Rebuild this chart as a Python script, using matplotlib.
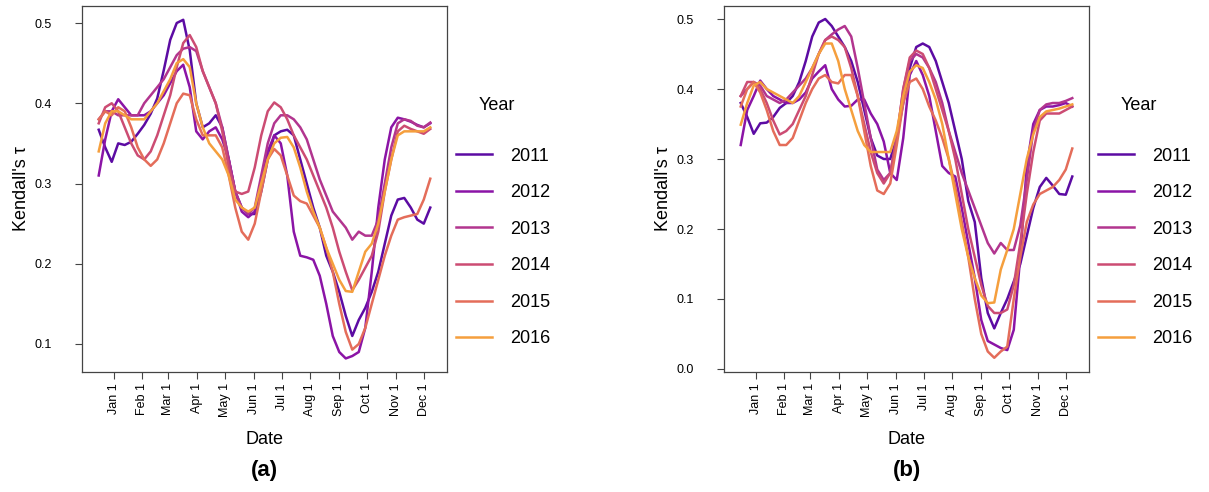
import numpy as np
import matplotlib
matplotlib.use("Agg")
from matplotlib import pyplot as plt

plt.rcParams['font.family'] = ['Liberation Sans', 'DejaVu Sans']

# weekly window centres, in days from Jan 1
days = np.arange(-16, 342, 7)

years = ['2011', '2012', '2013', '2014', '2015', '2016']
colors = ['#5c0ba3', '#8b14a6', '#b2358f', '#cc4c73', '#e46d5a', '#f59f3d']

month_days = [0, 31, 59, 90, 120, 151, 181, 212, 243, 273, 304, 334]
month_labels = ['Jan 1', 'Feb 1', 'Mar 1', 'Apr 1', 'May 1', 'Jun 1',
                'Jul 1', 'Aug 1', 'Sep 1', 'Oct 1', 'Nov 1', 'Dec 1']

# panel (a)
tau_a_2011 = [0.367, 0.345, 0.327, 0.350, 0.348, 0.352, 0.362, 0.373, 0.387, 0.406, 0.441, 0.479, 0.500,
              0.504, 0.466, 0.400, 0.370, 0.375, 0.385, 0.370, 0.330, 0.290, 0.270, 0.262, 0.262, 0.290,
              0.330, 0.360, 0.365, 0.367, 0.360, 0.330, 0.300, 0.270, 0.245, 0.210, 0.190, 0.165, 0.135,
              0.110, 0.130, 0.145, 0.165, 0.190, 0.225, 0.260, 0.280, 0.282, 0.270, 0.255, 0.250, 0.270]
tau_a_2012 = [0.310, 0.355, 0.390, 0.405, 0.395, 0.385, 0.385, 0.385, 0.390, 0.400, 0.410, 0.425, 0.440,
              0.448, 0.420, 0.365, 0.355, 0.365, 0.370, 0.355, 0.330, 0.290, 0.265, 0.258, 0.265, 0.300,
              0.340, 0.360, 0.350, 0.310, 0.240, 0.210, 0.208, 0.205, 0.185, 0.150, 0.110, 0.090, 0.082,
              0.085, 0.090, 0.120, 0.190, 0.270, 0.330, 0.370, 0.382, 0.380, 0.377, 0.373, 0.370, 0.375]
tau_a_2013 = [0.380, 0.390, 0.390, 0.385, 0.385, 0.385, 0.385, 0.400, 0.410, 0.420, 0.430, 0.445, 0.460,
              0.468, 0.470, 0.465, 0.440, 0.420, 0.400, 0.370, 0.330, 0.290, 0.270, 0.262, 0.270, 0.310,
              0.350, 0.375, 0.385, 0.385, 0.380, 0.370, 0.355, 0.330, 0.305, 0.285, 0.265, 0.255, 0.245,
              0.230, 0.240, 0.235, 0.235, 0.255, 0.300, 0.345, 0.375, 0.380, 0.378, 0.372, 0.370, 0.376]
tau_a_2014 = [0.375, 0.395, 0.400, 0.390, 0.370, 0.350, 0.335, 0.330, 0.340, 0.360, 0.385, 0.410, 0.445,
              0.475, 0.485, 0.470, 0.440, 0.420, 0.400, 0.365, 0.320, 0.290, 0.287, 0.290, 0.320, 0.360,
              0.390, 0.401, 0.395, 0.380, 0.360, 0.345, 0.330, 0.310, 0.290, 0.270, 0.245, 0.215, 0.190,
              0.167, 0.180, 0.195, 0.210, 0.240, 0.290, 0.330, 0.365, 0.372, 0.368, 0.365, 0.362, 0.368]
tau_a_2015 = [0.380, 0.390, 0.385, 0.395, 0.390, 0.370, 0.345, 0.330, 0.322, 0.330, 0.350, 0.375, 0.400,
              0.412, 0.410, 0.380, 0.360, 0.360, 0.360, 0.345, 0.310, 0.270, 0.240, 0.230, 0.250, 0.290,
              0.330, 0.343, 0.335, 0.310, 0.285, 0.278, 0.275, 0.260, 0.245, 0.220, 0.190, 0.150, 0.115,
              0.093, 0.100, 0.120, 0.150, 0.180, 0.210, 0.235, 0.255, 0.258, 0.260, 0.262, 0.280, 0.306]
tau_a_2016 = [0.340, 0.375, 0.390, 0.390, 0.385, 0.380, 0.380, 0.380, 0.390, 0.400, 0.415, 0.430, 0.450,
              0.455, 0.445, 0.400, 0.370, 0.350, 0.340, 0.330, 0.310, 0.280, 0.270, 0.265, 0.270, 0.300,
              0.330, 0.350, 0.357, 0.358, 0.345, 0.320, 0.290, 0.265, 0.245, 0.220, 0.200, 0.180, 0.166,
              0.165, 0.190, 0.215, 0.225, 0.250, 0.290, 0.330, 0.360, 0.365, 0.365, 0.365, 0.365, 0.370]

# panel (b)
tau_b_2011 = [0.380, 0.360, 0.336, 0.351, 0.352, 0.360, 0.373, 0.380, 0.390, 0.410, 0.440, 0.475, 0.495,
              0.500, 0.490, 0.475, 0.460, 0.440, 0.410, 0.370, 0.330, 0.305, 0.300, 0.300, 0.330, 0.380,
              0.430, 0.460, 0.465, 0.460, 0.440, 0.410, 0.380, 0.340, 0.300, 0.240, 0.210, 0.130, 0.080,
              0.058, 0.080, 0.100, 0.125, 0.150, 0.190, 0.230, 0.260, 0.273, 0.262, 0.250, 0.249, 0.275]
tau_b_2012 = [0.320, 0.370, 0.390, 0.412, 0.400, 0.390, 0.385, 0.380, 0.380, 0.385, 0.395, 0.415, 0.425,
              0.434, 0.400, 0.385, 0.375, 0.376, 0.385, 0.385, 0.365, 0.350, 0.325, 0.280, 0.270, 0.330,
              0.420, 0.440, 0.420, 0.390, 0.340, 0.290, 0.280, 0.275, 0.230, 0.180, 0.130, 0.070, 0.040,
              0.035, 0.030, 0.027, 0.056, 0.160, 0.290, 0.350, 0.370, 0.375, 0.375, 0.377, 0.380, 0.375]
tau_b_2013 = [0.390, 0.400, 0.410, 0.405, 0.390, 0.385, 0.380, 0.385, 0.395, 0.405, 0.415, 0.430, 0.450,
              0.470, 0.478, 0.485, 0.490, 0.475, 0.430, 0.380, 0.330, 0.285, 0.270, 0.280, 0.330, 0.400,
              0.440, 0.450, 0.445, 0.430, 0.410, 0.380, 0.340, 0.310, 0.280, 0.255, 0.230, 0.205, 0.180,
              0.165, 0.180, 0.170, 0.170, 0.205, 0.270, 0.340, 0.370, 0.378, 0.380, 0.380, 0.383, 0.387]
tau_b_2014 = [0.390, 0.410, 0.410, 0.400, 0.380, 0.355, 0.335, 0.340, 0.350, 0.370, 0.390, 0.420, 0.450,
              0.470, 0.475, 0.470, 0.460, 0.430, 0.390, 0.350, 0.310, 0.280, 0.265, 0.280, 0.330, 0.400,
              0.445, 0.455, 0.450, 0.430, 0.400, 0.370, 0.340, 0.300, 0.250, 0.200, 0.160, 0.120, 0.090,
              0.080, 0.080, 0.085, 0.120, 0.180, 0.250, 0.310, 0.355, 0.365, 0.365, 0.365, 0.370, 0.375]
tau_b_2015 = [0.375, 0.400, 0.410, 0.395, 0.370, 0.340, 0.320, 0.320, 0.330, 0.355, 0.380, 0.400, 0.415,
              0.420, 0.410, 0.408, 0.420, 0.420, 0.390, 0.340, 0.290, 0.255, 0.250, 0.265, 0.320, 0.380,
              0.410, 0.415, 0.400, 0.375, 0.355, 0.330, 0.300, 0.260, 0.210, 0.160, 0.100, 0.050, 0.025,
              0.016, 0.025, 0.032, 0.100, 0.160, 0.210, 0.235, 0.250, 0.255, 0.260, 0.270, 0.285, 0.315]
tau_b_2016 = [0.349, 0.380, 0.405, 0.410, 0.400, 0.395, 0.390, 0.385, 0.380, 0.390, 0.410, 0.430, 0.450,
              0.465, 0.465, 0.440, 0.400, 0.370, 0.340, 0.320, 0.310, 0.310, 0.310, 0.310, 0.340, 0.390,
              0.425, 0.434, 0.430, 0.410, 0.385, 0.350, 0.300, 0.250, 0.200, 0.160, 0.130, 0.105, 0.094,
              0.095, 0.142, 0.170, 0.200, 0.250, 0.300, 0.335, 0.360, 0.368, 0.370, 0.372, 0.375, 0.378]

panels = [
    ('(a)', [tau_a_2011, tau_a_2012, tau_a_2013, tau_a_2014, tau_a_2015, tau_a_2016],
     (0.0651, 0.5212), [0.1, 0.2, 0.3, 0.4, 0.5]),
    ('(b)', [tau_b_2011, tau_b_2012, tau_b_2013, tau_b_2014, tau_b_2015, tau_b_2016],
     (-0.0043, 0.5186), [0.0, 0.1, 0.2, 0.3, 0.4, 0.5]),
]

fig = plt.figure(figsize=(12.09, 4.92), dpi=100)
lefts = [82 / 1209, 724 / 1209]

for left, (tag, series, ylim, yticks) in zip(lefts, panels):
    ax = fig.add_axes([left, 120 / 492, 365 / 1209, 366 / 492])
    for yr, vals, col in zip(years, series, colors):
        ax.plot(days, vals, color=col, lw=1.8, label=yr)

    ax.set_xlim(-34, 359)
    ax.set_ylim(*ylim)
    ax.set_xticks(month_days)
    ax.set_xticklabels(month_labels, rotation=90, fontsize=9)
    ax.set_yticks(yticks)
    ax.set_yticklabels([f'{t:.1f}' for t in yticks], fontsize=9)
    ax.tick_params(length=5, width=0.8, color='#444444')
    ax.tick_params(axis='x', pad=3)
    ax.tick_params(axis='y', pad=17)
    for sp in ax.spines.values():
        sp.set_color('#444444')
        sp.set_linewidth(0.9)

    ax.set_xlabel('Date', fontsize=13, labelpad=10)
    ax.set_ylabel("Kendall's \u03c4", fontsize=13, labelpad=3)

    # year legend to the right of the panel
    ax.text(1.087, 0.729, 'Year', transform=ax.transAxes, fontsize=13, va='center')
    ax.legend(loc='upper left', bbox_to_anchor=(1.005, 0.633), frameon=False,
              fontsize=13, handlelength=2.0, handletextpad=1.0, labelspacing=1.085,
              borderaxespad=0)

    ax.text(0.5, -0.268, tag, transform=ax.transAxes, fontsize=16,
            fontweight='bold', ha='center', va='center')

fig.savefig('out.png', dpi=100)
